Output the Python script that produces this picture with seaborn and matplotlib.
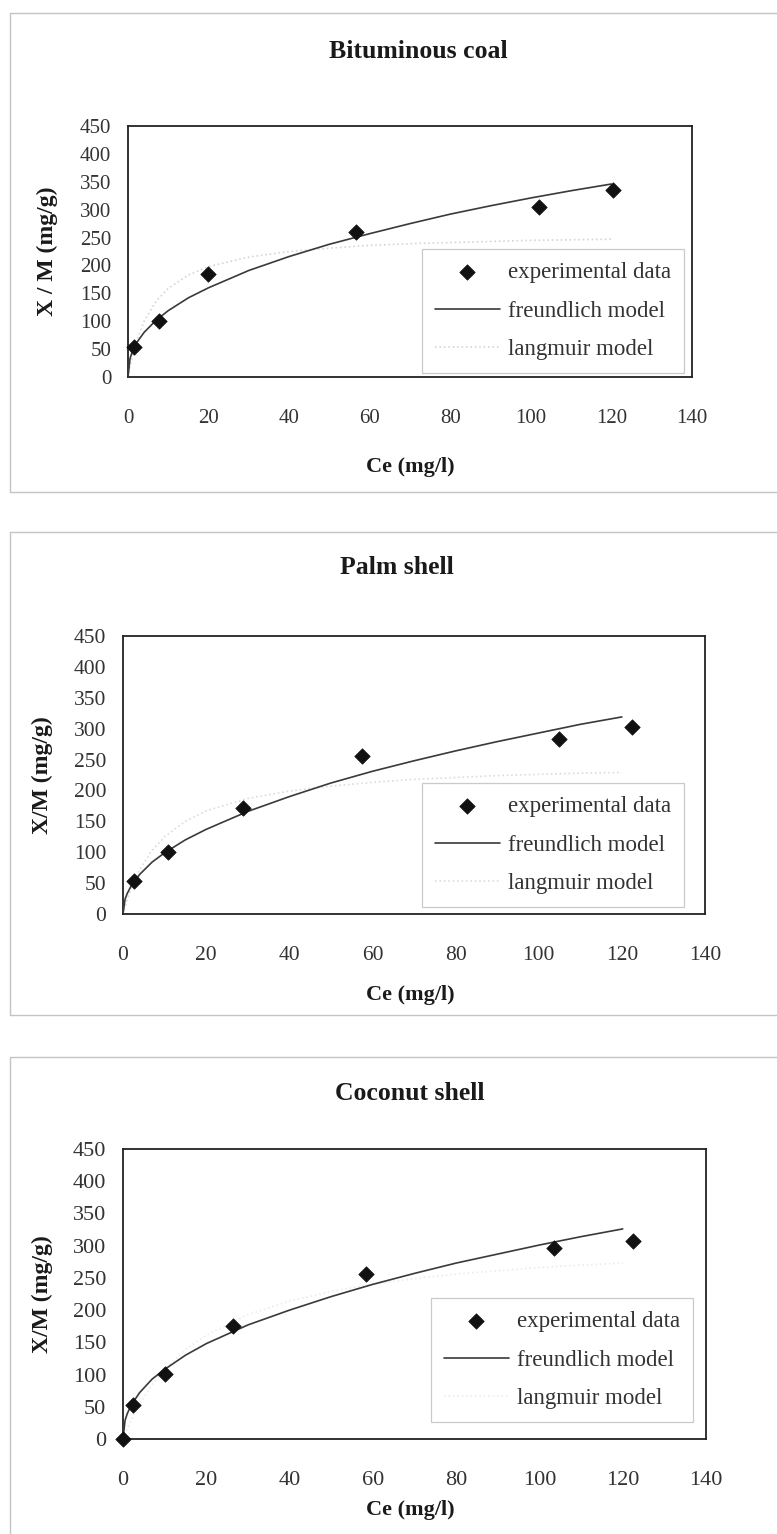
import matplotlib
matplotlib.use("Agg")
import matplotlib.pyplot as plt
from matplotlib.lines import Line2D
import pandas as pd
import seaborn as sns

# ---- data -------------------------------------------------------------
titles = ["Bituminous coal", "Palm shell", "Coconut shell"]
ylabels = ["X / M (mg/g)", "X/M (mg/g)", "X/M (mg/g)"]
xlabel = "Ce (mg/l)"
x_ticks = [0, 20, 40, 60, 80, 100, 120, 140]
y_ticks = [0, 50, 100, 150, 200, 250, 300, 350, 400, 450]

# experimental equilibrium data (Ce in mg/l, X/M in mg/g)
bit_ce = [1.5, 7.7, 19.9, 56.5, 102.0, 120.5]
bit_q = [54, 100, 185, 260, 305, 335]
palm_ce = [2.7, 10.8, 28.9, 57.5, 105.0, 122.5]
palm_q = [53, 100, 172, 256, 283, 303]
coco_ce = [0.0, 2.5, 10.0, 26.5, 58.3, 103.5, 122.5]
coco_q = [0, 52, 101, 175, 256, 296, 307]

# model isotherm curves
model_ce = [0, 0.5, 1, 2, 4, 7, 10, 15, 20, 30, 40, 50, 60, 70, 80, 90, 100, 110, 120]
bit_freundlich = [0, 33, 44, 60, 80, 102, 119, 142, 160, 191, 216, 238, 257, 275, 292, 307, 321, 334, 346]
palm_freundlich = [0, 24, 33, 46, 64, 84, 99, 120, 137, 166, 190, 212, 231, 248, 264, 279, 293, 307, 319]
coco_freundlich = [0, 29, 39, 53, 72, 93, 108, 130, 148, 177, 200, 221, 240, 257, 273, 287, 301, 314, 326]
bit_langmuir = [0, 19, 35, 62, 100, 136, 159, 183, 198, 215, 225, 231, 236, 239, 241, 243, 245, 246, 247]
palm_langmuir = [0, 12, 23, 42, 72, 103, 125, 150, 167, 187, 199, 207, 213, 218, 221, 224, 226, 228, 229]
coco_langmuir = [0, 8, 16, 30, 54, 84, 108, 139, 161, 193, 214, 229, 240, 249, 256, 261, 266, 270, 273]

panels = [
    (bit_ce, bit_q, bit_freundlich, bit_langmuir),
    (palm_ce, palm_q, palm_freundlich, palm_langmuir),
    (coco_ce, coco_q, coco_freundlich, coco_langmuir),
]

# ---- layout (pixels on a 777 x 1534 canvas) ------------------------------
W, H = 777, 1534
axes_px = [(128, 692, 126, 377), (123, 705, 636, 914), (123, 706, 1149, 1439)]
legend_px = [(422, 249), (422, 783), (431, 1298)]
title_px = [(418, 52), (397, 568), (410, 1093)]
xlabel_px = [(410, 467), (410, 995), (410, 1510)]
ylabel_x = [47, 42, 42]
frame_px = [(13, 492), (532, 1015), (1057, 1540)]
tick_fs = [15, 15.5, 16]
langmuir_colors = ["#d6d6d6", "#dcdcdc", "#ececec"]

sns.set_style("white")
plt.rcParams["font.family"] = ["Liberation Serif", "DejaVu Serif"]

fig = plt.figure(figsize=(W / 100, H / 100), dpi=100)
fig.patch.set_facecolor("white")


def fx(px):
    return px / W


def fy(py):
    return 1 - py / H


for i, (ce, q, fr, la) in enumerate(panels):
    l, r, t, b = axes_px[i]
    ax = fig.add_axes([fx(l), fy(b), (r - l) / W, (b - t) / H])
    ax.set_facecolor("white")

    pts = pd.DataFrame({"Ce": ce, "q": q})
    curves = pd.DataFrame({"Ce": model_ce, "freundlich": fr, "langmuir": la})

    sns.scatterplot(data=pts, x="Ce", y="q", ax=ax, marker="D", s=62,
                    color="#111111", edgecolor="#111111", linewidth=0.5,
                    label="experimental data", clip_on=False, zorder=4)
    sns.lineplot(data=curves, x="Ce", y="freundlich", ax=ax, color="#3a3a3a",
                 linewidth=1.2, label="freundlich model", zorder=3)
    sns.lineplot(data=curves, x="Ce", y="langmuir", ax=ax,
                 color=langmuir_colors[i], linewidth=1.2, linestyle=":",
                 label="langmuir model", zorder=2)

    ax.set_xlim(0, 140)
    ax.set_ylim(0, 450)
    ax.set_xticks(x_ticks)
    ax.set_yticks(y_ticks)
    ax.set_xlabel("")
    ax.set_ylabel("")
    for sp in ax.spines.values():
        sp.set_visible(True)
        sp.set_color("#222222")
        sp.set_linewidth(1.3)
    ax.tick_params(axis="both", which="major", direction="out", length=4,
                   width=0.9, color="#555555", labelsize=tick_fs[i],
                   labelcolor="#333333")
    ax.tick_params(axis="x", pad=19)
    ax.tick_params(axis="y", pad=8)

    lx, ly = legend_px[i]
    leg = ax.legend(loc="upper left", bbox_to_anchor=(fx(lx), fy(ly)),
                    bbox_transform=fig.transFigure, borderaxespad=0,
                    frameon=True, fancybox=False, fontsize=16.5,
                    handlelength=2.85, handletextpad=0.35, labelspacing=0.78,
                    borderpad=0.55, markerscale=1.0)
    leg.get_frame().set_edgecolor("#bdbdbd")
    leg.get_frame().set_linewidth(0.9)
    for txt in leg.get_texts():
        txt.set_color("#333333")

    tx, ty = title_px[i]
    fig.text(fx(tx), fy(ty), titles[i], ha="center", va="center",
             fontsize=18.5, fontweight="bold", color="#1a1a1a")
    xx, xy = xlabel_px[i]
    fig.text(fx(xx), fy(xy), xlabel, ha="center", va="center",
             fontsize=16, fontweight="bold", color="#1a1a1a")
    fig.text(fx(ylabel_x[i]), fy((t + b) / 2), ylabels[i], ha="center",
             va="center", rotation=90, fontsize=17, fontweight="bold",
             color="#1a1a1a")

    # light grey frame around each chart block
    top, bot = frame_px[i]
    for (xa, ya, xb, yb) in [(10, top, W, top), (10, top, 10, bot), (10, bot, W, bot)]:
        fig.add_artist(Line2D([fx(xa), fx(xb)], [fy(ya), fy(yb)],
                              transform=fig.transFigure, color="#c4c4c4",
                              linewidth=1.0))

fig.savefig("out.png", dpi=100, facecolor="white")
